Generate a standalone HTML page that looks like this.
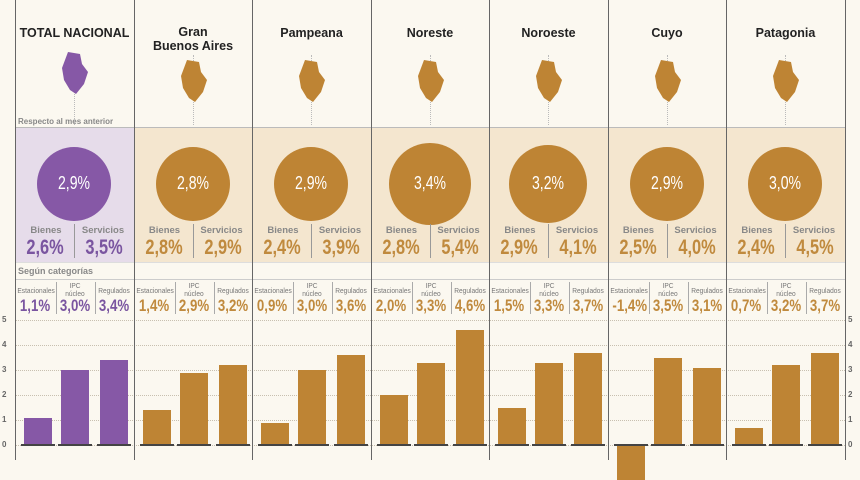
<!DOCTYPE html><html><head><meta charset="utf-8"><style>
body{margin:0;width:860px;height:460px;overflow:hidden;background:#fbf8f0;font-family:"Liberation Sans",sans-serif;position:relative}
div,span{position:absolute}
.t{font-weight:bold;font-size:12.5px;color:#222;text-align:center;line-height:14px}
.sm{font-size:7.5px;color:#777;text-align:center;line-height:8px;transform:scaleX(0.88);white-space:nowrap}
.lb{font-size:9.5px;color:#888;font-weight:bold;text-align:center}
.big{font-weight:bold;text-align:center;white-space:nowrap;transform:scaleX(0.78)}
.gl{border-top:1px dotted #c8c0b0;left:15px;width:830px;height:0}
.yl{font-size:8px;color:#666;font-weight:bold}
</style></head><body>
<div style="left:15px;top:128px;width:119px;height:134px;background:#e6dcea"></div>
<div style="left:134px;top:128px;width:711px;height:134px;background:#f4e6cf"></div>
<div style="left:15px;top:127px;width:830px;border-top:1px solid #bbb"></div>
<div style="left:15px;top:262px;width:830px;border-top:1px solid #ddd"></div>
<div style="left:15px;top:279px;width:830px;border-top:1px solid #ccc"></div>
<div class="lb" style="left:18px;top:117px;font-size:8px;text-align:left">Respecto al mes anterior</div>
<div class="lb" style="left:18px;top:266px;font-size:9px;text-align:left">Según categorías</div>
<div id="c"></div>
<script>
var cols=[["TOTAL NACIONAL",2.9,2.6,3.5,[1.1,3.0,3.4],1],["Gran<br>Buenos Aires",2.8,2.8,2.9,[1.4,2.9,3.2]],["Pampeana",2.9,2.4,3.9,[0.9,3.0,3.6]],["Noreste",3.4,2.8,5.4,[2.0,3.3,4.6]],["Noroeste",3.2,2.9,4.1,[1.5,3.3,3.7]],["Cuyo",2.9,2.5,4.0,[-1.4,3.5,3.1]],["Patagonia",3.0,2.4,4.5,[0.7,3.2,3.7]]];
var h='';
for(var v=0;v<=5;v++){var y=445-v*25;h+='<div class="gl" style="top:'+y+'px"></div><div class="yl" style="left:2px;top:'+(y-5)+'px">'+v+'</div><div class="yl" style="left:848px;top:'+(y-5)+'px">'+v+'</div>';}
var f=function(x){return x.toFixed(1).replace('.',',')+'%'};
cols.forEach(function(c,i){
 var x0=15+i*118.5,cx=x0+59,col=c[5]?'#8658a6':'#be8434',tc=c[5]?'#7a55a0':'#c08a3e';
 h+='<div style="left:'+Math.round(x0)+'px;top:0;height:460px;border-left:1px solid #666"></div>';
 var ty=c[0].indexOf('<br>')>0?25:26;
 h+='<div class="t" style="left:'+x0+'px;width:119px;top:'+ty+'px">'+c[0]+'</div>';
 h+='<div style="left:'+cx+'px;top:55px;height:70px;border-left:1px dotted #bbb"></div>';
 h+='<svg style="position:absolute;left:'+(cx-16)+'px;top:'+(c[5]?50:58)+'px" width="34" height="50" viewBox="0 0 34 50"><path d="M10 2 L22 4 L24 14 L30 22 L26 34 L18 44 L12 40 L6 30 L4 18 Z" fill="'+col+'"/></svg>';
 var r=c[1]>=3.4?41:(c[1]>=3.2?39:37);
 h+='<div style="left:'+(cx-r)+'px;top:'+(184-r)+'px;width:'+2*r+'px;height:'+2*r+'px;border-radius:50%;background:'+col+'"></div>';
 h+='<div class="big" style="left:'+(cx-40)+'px;width:80px;top:173px;font-size:18px;color:#fff;font-weight:normal">'+f(c[1])+'</div>';
 h+='<div class="lb" style="left:'+(x0+4)+'px;width:54px;top:225px">Bienes</div><div class="lb" style="left:'+(x0+60)+'px;width:56px;top:225px">Servicios</div>';
 h+='<div style="left:'+cx+'px;top:224px;height:34px;border-left:1px solid #999"></div>';
 h+='<div class="big" style="left:'+(x0+2)+'px;width:56px;top:236px;font-size:21px;color:'+tc+'">'+f(c[2])+'</div><div class="big" style="left:'+(x0+60)+'px;width:58px;top:236px;font-size:21px;color:'+tc+'">'+f(c[3])+'</div>';
 var labs=['Estacionales','IPC<br>núcleo','Regulados'];
 for(var k=0;k<3;k++){var bx=x0+[9,46,85][k];
  h+='<div class="sm" style="left:'+(x0+[0,40,79][k])+'px;width:40px;top:'+(k==1?282:287)+'px">'+labs[k]+'</div>';
  if(k>0)h+='<div style="left:'+(x0+[0,41,80][k])+'px;top:282px;height:32px;border-left:1px solid #aaa"></div>';
  h+='<div class="big" style="left:'+(x0+[0,40,79][k])+'px;width:40px;top:296px;font-size:17px;color:'+tc+'">'+f(c[4][k])+'</div>';
  var val=c[4][k],hh=Math.abs(val)*25;
  h+='<div style="left:'+bx+'px;width:28px;top:'+(val>=0?445-hh:445)+'px;height:'+hh+'px;background:'+col+'"></div>';
  h+='<div style="left:'+(bx-3)+'px;width:34px;top:444px;height:2px;background:#444"></div>';
 }
});
h+='<div style="left:845px;top:0;height:460px;border-left:1px solid #666"></div>';
document.getElementById('c').innerHTML=h;
</script>
</body></html>
